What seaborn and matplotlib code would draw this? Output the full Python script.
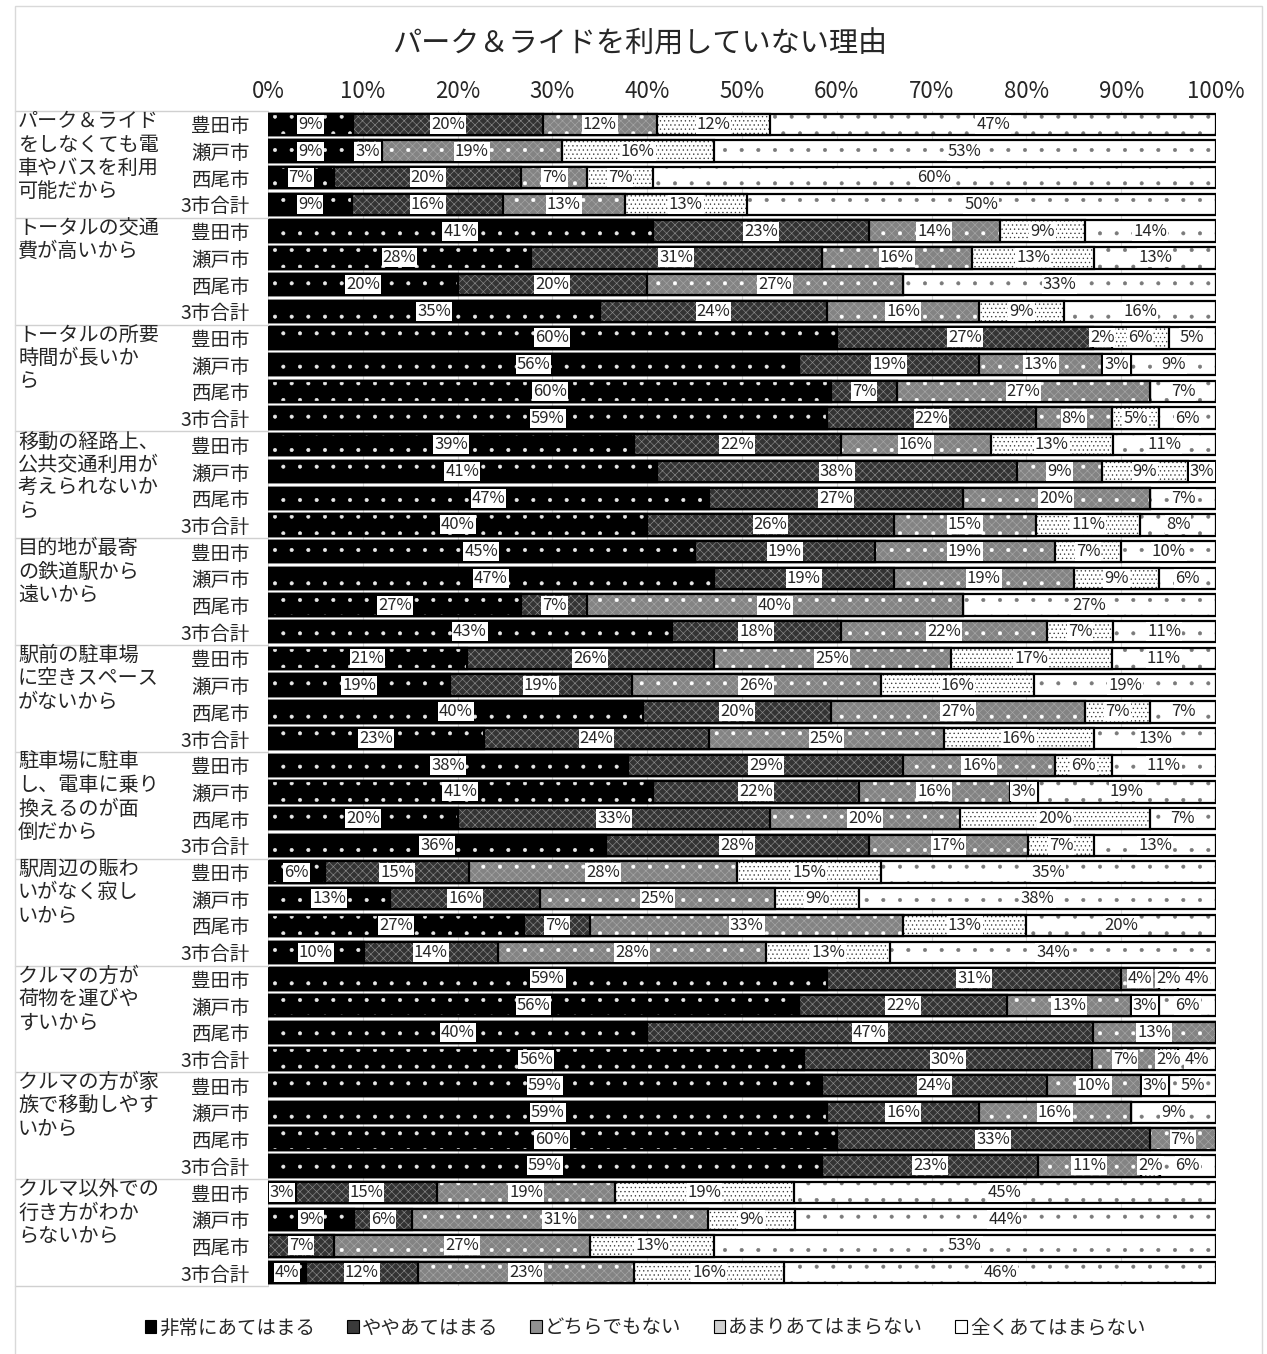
"""
パーク＆ライドを利用していない理由 - 100% stacked bars, 11 reasons x 4 areas.
"""

import numpy as np
import pandas as pd
import matplotlib
matplotlib.use('Agg')
import matplotlib.pyplot as plt
import seaborn as sns
from matplotlib.patches import Patch, Rectangle
from matplotlib.transforms import blended_transform_factory

sns.set_style('white')
plt.rcParams['font.family'] = ['Noto Sans CJK JP', 'DejaVu Sans']
plt.rcParams['hatch.linewidth'] = 0.45

TITLE = 'パーク＆ライドを利用していない理由'

GROUPS = [
    'パーク＆ライド\nをしなくても電\n車やバスを利用\n可能だから',
    'トータルの交通\n費が高いから',
    'トータルの所要\n時間が長いか\nら',
    '移動の経路上、\n公共交通利用が\n考えられないか\nら',
    '目的地が最寄\nの鉄道駅から\n遠いから',
    '駅前の駐車場\nに空きスペース\nがないから',
    '駐車場に駐車\nし、電車に乗り\n換えるのが面\n倒だから',
    '駅周辺の賑わ\nいがなく寂し\nいから',
    'クルマの方が\n荷物を運びや\nすいから',
    'クルマの方が家\n族で移動しやす\nいから',
    'クルマ以外での\n行き方がわか\nらないから',
]
CITIES = ['豊田市', '瀬戸市', '西尾市', '3市合計']
CATEGORIES = ['非常にあてはまる', 'ややあてはまる', 'どちらでもない',
              'あまりあてはまらない', '全くあてはまらない']

# one value per bar, order: group by group, cities 豊田/瀬戸/西尾/3市合計
VERY = [9, 9, 7, 9,   41, 28, 20, 35,   60, 56, 60, 59,   39, 41, 47, 40,
        45, 47, 27, 43,   21, 19, 40, 23,   38, 41, 20, 36,   6, 13, 27, 10,
        59, 56, 40, 56,   59, 59, 60, 59,   3, 9, 0, 4]
SOMEWHAT = [20, 3, 20, 16,   23, 31, 20, 24,   27, 19, 7, 22,   22, 38, 27, 26,
            19, 19, 7, 18,   26, 19, 20, 24,   29, 22, 33, 28,   15, 16, 7, 14,
            31, 22, 47, 30,   24, 16, 33, 23,   15, 6, 7, 12]
NEUTRAL = [12, 19, 7, 13,   14, 16, 27, 16,   2, 13, 27, 8,   16, 9, 20, 15,
           19, 19, 40, 22,   25, 26, 27, 25,   16, 16, 20, 17,   28, 25, 33, 28,
           4, 13, 13, 7,   10, 16, 7, 11,   19, 31, 27, 23]
NOT_MUCH = [12, 16, 7, 13,   9, 13, 0, 9,   6, 3, 0, 5,   13, 9, 0, 11,
            7, 9, 0, 7,   17, 16, 7, 16,   6, 3, 20, 7,   15, 9, 13, 13,
            2, 3, 0, 2,   3, 0, 0, 2,   19, 9, 13, 16]
NOT_AT_ALL = [47, 53, 60, 50,   14, 13, 33, 16,   5, 9, 7, 6,   11, 3, 7, 8,
              10, 6, 27, 11,   11, 19, 7, 13,   11, 19, 7, 13,   35, 38, 20, 34,
              4, 6, 0, 4,   5, 9, 0, 6,   45, 44, 53, 46]

# face colour, list of (hatch, hatch colour) layers, legend swatch colour
STYLES = [
    ('#000000', [('.', '#e8e8e8')], '#000000'),
    ('#333333', [('xxxx', '#8a8a8a')], '#3a3a3a'),
    ('#838383', [('xxxx', '#a6a6a6'), ('.', 'white')], '#909090'),
    ('white', [('....', '#3a3a3a')], '#d0d0d0'),
    ('white', [('.', '#7a7a7a')], 'white'),
]

W, H = 1267, 1354
fig = plt.figure(figsize=(W / 100, H / 100), dpi=100)
ax = fig.add_axes([268 / W, 1 - 1286 / H, 948 / W, 1175 / H])

rows = [f'{g}-{c}' for g in range(len(GROUPS)) for c in CITIES]
df = pd.DataFrame({'row': rows, CATEGORIES[0]: VERY, CATEGORIES[1]: SOMEWHAT,
                   CATEGORIES[2]: NEUTRAL, CATEGORIES[3]: NOT_MUCH,
                   CATEGORIES[4]: NOT_AT_ALL})
vals = df[CATEGORIES].to_numpy(float)
share = vals / vals.sum(axis=1, keepdims=True) * 100   # Excel-style 100% stacking
cum = share.cumsum(axis=1)


def layer(xvals, **props):
    n0 = len(ax.patches)
    sns.barplot(x=xvals, y=rows, orient='h', color='white', width=0.8,
                saturation=1, errorbar=None, ax=ax)
    for p in ax.patches[n0:]:
        p.set(**props)


# draw cumulative bars from the right-most category down to the first
for k in range(len(CATEGORIES) - 1, -1, -1):
    face, hatches, _ = STYLES[k]
    layer(cum[:, k], facecolor=face, edgecolor='none', linewidth=0)
    for h, hc in hatches:
        layer(cum[:, k], facecolor='none', edgecolor=hc, linewidth=0, hatch=h)
    layer(cum[:, k], facecolor='none', edgecolor='black', linewidth=1.6)

# value labels
for i in range(len(rows)):
    for k in range(len(CATEGORIES)):
        v = vals[i, k]
        if v <= 0:
            continue
        ax.text(cum[i, k] - share[i, k] / 2, i, f'{int(v)}%', ha='center', va='center',
                fontsize=12, zorder=5,
                bbox=dict(boxstyle='square,pad=0.06', fc='white', ec='none'))

ax.set_xlim(0, 100)
ax.set_ylim(len(rows) - 0.5, -0.5)
ax.set_xlabel('')
ax.set_ylabel('')
ax.xaxis.tick_top()
ax.set_xticks(range(0, 101, 10))
ax.set_xticklabels([f'{t}%' for t in range(0, 101, 10)], fontsize=16)
ax.set_yticks(range(len(rows)))
ax.set_yticklabels(CITIES * len(GROUPS), fontsize=14)
ax.tick_params(axis='x', length=0, pad=6)
ax.tick_params(axis='y', length=0, pad=13)
ax.xaxis.grid(True, color='#d9d9d9', lw=0.8)
ax.set_axisbelow(True)
for s in ax.spines.values():
    s.set_visible(False)

# group labels and separators in the label column
trans = blended_transform_factory(fig.transFigure, ax.transData)
for g, label in enumerate(GROUPS):
    ax.text(18 / W, g * 4 - 0.5, label, transform=trans, ha='left', va='top',
            fontsize=14.5, linespacing=1.15, clip_on=False)
for g in range(len(GROUPS) + 1):
    ax.plot([15 / W, 268 / W], [g * 4 - 0.5] * 2, transform=trans, color='#d0d0d0',
            lw=1, clip_on=False)

# outer chart frame
fig.patches.append(Rectangle((15 / W, -0.01), (1262 - 15) / W, 1.01 - 6 / H,
                             transform=fig.transFigure, fill=False,
                             edgecolor='#d9d9d9', lw=1))

fig.text(640 / W, 1 - 45 / H, TITLE, ha='center', va='center', fontsize=21)

handles = [Patch(facecolor=s[2], edgecolor='black', lw=0.8) for s in STYLES]
fig.legend(handles, CATEGORIES, loc='center', bbox_to_anchor=(645 / W, 1 - 1328 / H),
           ncol=5, frameon=False, fontsize=14, handlelength=0.6, handleheight=0.6,
           handletextpad=0.15, columnspacing=1.65)

fig.savefig('out.png', dpi=100, facecolor='white')
